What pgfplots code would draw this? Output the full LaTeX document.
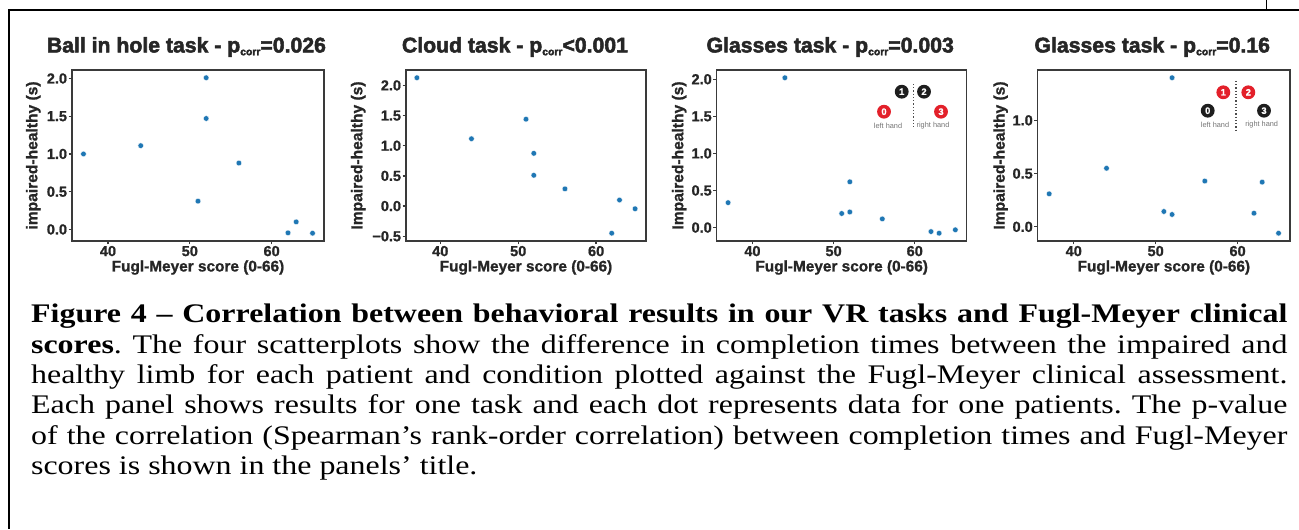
\documentclass[border=0pt]{standalone}
\usepackage{fontspec}
\setmainfont{Liberation Serif}
\newfontfamily\plotfont{Liberation Sans}[BoldFont={Liberation Sans Bold}, BoldFeatures={FakeBold=1.1}]
\newfontfamily\titlefont{Liberation Sans}[BoldFont={Liberation Sans Bold}, BoldFeatures={FakeBold=2.4}]
\usepackage{graphicx}
\usepackage{pgfplots}
\pgfplotsset{compat=1.18}
\frenchspacing

\definecolor{dotblue}{HTML}{1F77B4}
\definecolor{hred}{HTML}{E3202A}
\definecolor{hblack}{HTML}{1E1E1E}
\definecolor{spine}{HTML}{3A3A3A}

\def\pxu{0.4619pt}

\pgfplotsset{
  panel/.style={
    scale only axis,
    height=79pt,
    anchor=south west,
    xmin=35.6, xmax=66.4,
    xtick={40,50,60},
    xticklabels={40,50,60},
    axis line style={spine, line width=0.6pt},
    tick style={spine, line width=0.6pt},
    tick align=outside,
    major tick length=1.6pt,
    xtick pos=left, ytick pos=left,
    ticklabel style={font=\plotfont\bfseries\fontsize{6.7}{7}\selectfont, text=black!85, inner sep=0.5pt},
    clip=false,
  },
  dots/.style={only marks, mark=*, mark size=1.3pt, mark options={fill=dotblue, draw=white, line width=0.15pt}},
}
\newcommand{\sub}[1]{\raisebox{-1.3pt}{\fontsize{4.8}{5}\selectfont #1}}
\newcommand{\ptitle}[1]{\node[font=\titlefont\bfseries\fontsize{9.8}{10}\selectfont, text=black!85, anchor=center] at (axis description cs:0.454,1.1345) {#1};}
\newcommand{\pxlabel}{\node[font=\plotfont\bfseries\fontsize{7.1}{8}\selectfont, text=black!85, anchor=center] at (axis description cs:0.5,-0.155) {Fugl-Meyer score (0-66)};}
\newcommand{\pylabel}[2]{\node[font=\plotfont\bfseries\fontsize{7.2}{8}\selectfont, text=black!85, anchor=center, rotate=90] at (axis description cs:#1,0.5) {#2};}

\pgfplotstableread{
x y
37 1.00
44 1.11
51 0.375
52 2.01
52 1.47
56 0.88
62 -0.045
63 0.10
65 -0.05
}\ballhole
\pgfplotstableread{
x y
37 2.127
44 1.116
51 1.44
52 0.874
52 0.51
56 0.285
62 -0.45
63 0.10
65 -0.045
}\cloud
\pgfplotstableread{
x y
37 0.336
44 2.02
51 0.19
52 0.21
52 0.617
56 0.117
62 -0.054
63 -0.076
65 -0.03
}\glassesA
\pgfplotstableread{
x y
37 0.31
44 0.55
51 0.144
52 1.40
52 0.116
56 0.43
62 0.128
63 0.42
65 -0.06
}\glassesB

\begin{document}
\begin{tikzpicture}
\path[use as bounding box] (0,0) rectangle (1299*\pxu,-529*\pxu);

% Panel 1
\begin{axis}[panel, at={(72*\pxu,-241*\pxu)}, width=252*\pxu,
  ymin=-0.153, ymax=2.113, ytick={0,0.5,1,1.5,2}, yticklabels={0.0,0.5,1.0,1.5,2.0}]
\addplot[dots] table {\ballhole};
\ptitle{Ball in hole task - p\sub{corr}=0.026}
\pxlabel
\pylabel{-0.1536}{impaired-healthy (s)}
\end{axis}

% Panel 2
\begin{axis}[panel, at={(406*\pxu,-241*\pxu)}, width=240*\pxu,
  ymin=-0.579, ymax=2.256, ytick={-0.5,0,0.5,1,1.5,2}, yticklabels={−0.5,0.0,0.5,1.0,1.5,2.0}]
\addplot[dots] table {\cloud};
\ptitle{Cloud task - p\sub{corr}<0.001}
\pxlabel
\pylabel{-0.199}{Impaired-healthy (s)}
\end{axis}

% Panel 3
\begin{axis}[panel, at={(716.7*\pxu,-241*\pxu)}, width=250*\pxu,
  ymin=-0.181, ymax=2.125, ytick={0,0.5,1,1.5,2}, yticklabels={0.0,0.5,1.0,1.5,2.0}]
\addplot[dots] table {\glassesA};
\ptitle{Glasses task - p\sub{corr}=0.003}
\pxlabel
\pylabel{-0.150}{Impaired-healthy (s)}
\end{axis}

% Panel 4
\begin{axis}[panel, at={(1037.7*\pxu,-241*\pxu)}, width=252.3*\pxu,
  ymin=-0.133, ymax=1.473, ytick={0,0.5,1}, yticklabels={0.0,0.5,1.0}]
\addplot[dots] table {\glassesB};
\ptitle{Glasses task - p\sub{corr}=0.16}
\pxlabel
\pylabel{-0.147}{Impaired-healthy (s)}
\end{axis}

\begin{scope}[x=\pxu, y=-\pxu]
  % frame
  \draw[line width=0.9pt] (8,10) -- (1299,10);
  \draw[line width=0.9pt] (9,10) -- (9,529);
  \draw[line width=0.4pt] (1266.7,0) -- (1266.7,10);
  % inset panel 3
  \foreach \x/\y/\c/\n in {901.7/91.7/hblack/1, 924/91.7/hblack/2, 884/111.7/hred/0, 941/111.7/hred/3} {
    \fill[\c] (\x,\y) circle[radius=3.2pt];
    \node[text=white, font=\plotfont\bfseries\fontsize{4.3}{5}\selectfont, inner sep=0] at (\x,\y) {\n};
  }
  \draw[densely dotted, black!70, line width=0.5pt] (913.3,84) -- (913.3,129);
  \node[text=black!55, font=\plotfont\fontsize{3.4}{3.5}\selectfont, inner sep=0] at (888,125.5) {left hand};
  \node[text=black!55, font=\plotfont\fontsize{3.4}{3.5}\selectfont, inner sep=0] at (933,125.5) {right hand};
  % inset panel 4
  \foreach \x/\y/\c/\n in {1223.3/92.3/hred/1, 1248.3/92.3/hred/2, 1207.7/110.7/hblack/0, 1264/110.7/hblack/3} {
    \fill[\c] (\x,\y) circle[radius=3.2pt];
    \node[text=white, font=\plotfont\bfseries\fontsize{4.3}{5}\selectfont, inner sep=0] at (\x,\y) {\n};
  }
  \draw[densely dotted, black!70, line width=0.5pt] (1236,81) -- (1236,130);
  \node[text=black!55, font=\plotfont\fontsize{3.4}{3.5}\selectfont, inner sep=0] at (1215,125) {left hand};
  \node[text=black!55, font=\plotfont\fontsize{3.4}{3.5}\selectfont, inner sep=0] at (1261.7,125) {right hand};
  % caption
  \begin{scope}[every node/.style={anchor=base west, inner sep=0}]
  \node at (30.7,322.7) {\scalebox{1.19}[1]{\fontsize{12.4}{14}\selectfont\makebox[487.6pt][s]{\textbf{Figure 4 – Correlation between behavioral results in our VR tasks and Fugl-Meyer clinical}}}};
  \node at (30.7,353.1) {\scalebox{1.19}[1]{\fontsize{12.4}{14}\selectfont\makebox[487.6pt][s]{\textbf{scores}. The four scatterplots show the difference in completion times between the impaired and}}};
  \node at (30.7,383.5) {\scalebox{1.19}[1]{\fontsize{12.4}{14}\selectfont\makebox[487.6pt][s]{healthy limb for each patient and condition plotted against the Fugl-Meyer clinical assessment.}}};
  \node at (30.7,413.9) {\scalebox{1.19}[1]{\fontsize{12.4}{14}\selectfont\makebox[487.6pt][s]{Each panel shows results for one task and each dot represents data for one patients. The p-value}}};
  \node at (30.7,444.3) {\scalebox{1.19}[1]{\fontsize{12.4}{14}\selectfont\makebox[487.6pt][s]{of the correlation (Spearman’s rank-order correlation) between completion times and Fugl-Meyer}}};
  \node at (30.7,474.7) {\scalebox{1.19}[1]{\fontsize{12.4}{14}\selectfont\makebox[487.6pt][l]{scores is shown in the panels’ title.}}};
  \end{scope}
\end{scope}
\end{tikzpicture}
\end{document}
